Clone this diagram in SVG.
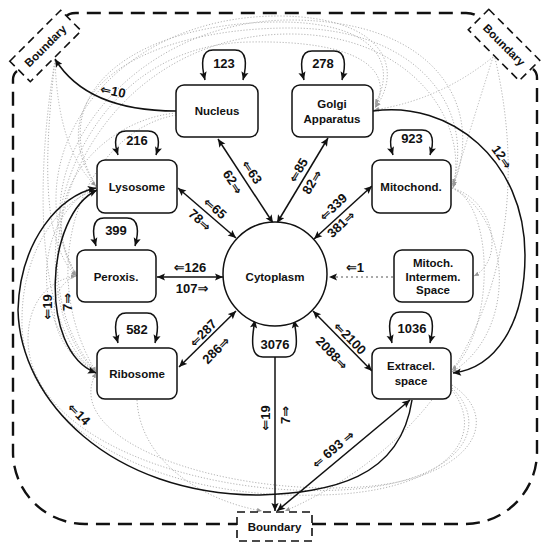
<svg xmlns="http://www.w3.org/2000/svg" width="550" height="550" viewBox="0 0 550 550">
<style>
text{font-family:"Liberation Sans","DejaVu Sans",sans-serif;font-weight:bold;text-anchor:middle;dominant-baseline:central;fill:#111}
.n{font-size:11.5px}
.e{font-size:13px}
.a{font-family:"DejaVu Sans",sans-serif;font-weight:bold}
.box{fill:#fff;stroke:#111;stroke-width:1.5}
.bnd{fill:#fff;stroke:#111;stroke-width:1.6;stroke-dasharray:8 5}
.outer{fill:none;stroke:#111;stroke-width:2.4;stroke-dasharray:14 8}
.s{fill:none;stroke:#111;stroke-width:1.5}
.d{fill:none;stroke:#b4b4b4;stroke-width:1;stroke-dasharray:1.2 1.8}
</style>
<defs>
<marker id="ah" viewBox="0 0 10 10" refX="10" refY="5" markerWidth="9" markerHeight="8" markerUnits="userSpaceOnUse" orient="auto-start-reverse"><path d="M0,0.5 L10,5 L0,9.5 L2,5 z" fill="#111"/></marker>
<marker id="gh" viewBox="0 0 10 10" refX="10" refY="5" markerWidth="5" markerHeight="5" markerUnits="userSpaceOnUse" orient="auto"><path d="M0,0.5 L10,5 L0,9.5 z" fill="#999"/></marker>
</defs>
<rect width="550" height="550" fill="#fff"/>

<g id="outer-boundary">
<path class="outer" d="M17,71 Q13,74 13,80 L13,452 A72 72 0 0 0 85,524 L237,524"/>
<path class="outer" d="M312,524 L465,524 A72 72 0 0 0 537,452 L537,78 Q537,72 533,69"/>
<path class="outer" d="M66,17 Q68,13 76,13 L466,13 Q474,13 478,17"/>
</g>

<g id="minor-connectors">
<path class="d" marker-end="url(#gh)" d="M96,186 C40,90 140,22 280,22 C370,22 400,60 375,104"/>
<path class="d" marker-end="url(#gh)" d="M77,276 C10,160 110,15 280,16 C380,17 405,65 376,107"/>
<path class="d" marker-end="url(#gh)" d="M96,186 C35,95 140,28 290,28 C420,28 475,110 453,184"/>
<path class="d" marker-end="url(#gh)" d="M77,276 C15,170 130,20 290,20 C440,20 485,110 453,186"/>
<path class="d" marker-end="url(#gh)" d="M96,372 C0,260 90,34 290,34 C410,34 470,120 453,188"/>
<path class="d" marker-end="url(#gh)" d="M96,372 C10,290 60,45 250,42 C360,40 395,70 375,108"/>
<path class="d" marker-end="url(#gh)" d="M176,113 C100,120 30,200 76,276"/>
<path class="d" marker-end="url(#gh)" d="M176,115 C90,130 30,260 96,372"/>
<path class="d" marker-end="url(#gh)" d="M55,60 Q58,150 96,186"/>
<path class="d" marker-end="url(#gh)" d="M55,60 C45,150 40,240 76,276"/>
<path class="d" marker-end="url(#gh)" d="M55,60 C35,180 35,330 96,372"/>
<path class="d" marker-end="url(#gh)" d="M493,57 Q440,100 374,110"/>
<path class="d" marker-end="url(#gh)" d="M493,57 Q470,130 453,186"/>
<path class="d" marker-end="url(#gh)" d="M452,188 C495,200 505,260 474,276"/>
<path class="d" marker-end="url(#gh)" d="M452,188 C510,215 520,330 452,372"/>
<path class="d" marker-end="url(#gh)" d="M452,188 C495,205 495,330 452,370"/>
<path class="d" marker-end="url(#gh)" d="M495,58 C540,250 470,430 285,511"/>
<path class="d" marker-end="url(#gh)" d="M452,385 C505,420 470,480 360,487 C220,496 60,440 96,373"/>
<path class="d" marker-end="url(#gh)" d="M452,388 C495,430 455,485 340,490 C200,497 30,440 28,340 C28,300 50,280 76,276"/>
<path class="d" marker-end="url(#gh)" d="M452,390 C490,440 440,493 320,495 C160,500 20,430 22,320 C22,250 60,200 96,190"/>
<path class="d" marker-end="url(#gh)" d="M137,400 C140,460 200,500 262,511"/>
<path class="d" marker-end="url(#gh)" d="M96,186 C30,220 30,330 96,372"/>
<path class="d" marker-end="url(#gh)" d="M76,276 C40,290 50,350 96,372"/>
<path class="d" style="stroke:#555;stroke-dasharray:2 3" marker-end="url(#ah)" d="M393,277 L329,277"/>
</g>

<g id="connectors">
<path class="s" marker-start="url(#ah)" marker-end="url(#ah)" d="M218,139 L273,223"/>
<path class="s" marker-start="url(#ah)" marker-end="url(#ah)" d="M328,138 L277,223"/>
<path class="s" marker-start="url(#ah)" marker-end="url(#ah)" d="M178,188 L236,238"/>
<path class="s" marker-start="url(#ah)" marker-end="url(#ah)" d="M157,277 L223,277"/>
<path class="s" marker-start="url(#ah)" marker-end="url(#ah)" d="M179,367 L236,311"/>
<path class="s" marker-start="url(#ah)" marker-end="url(#ah)" d="M372,186 L314,239"/>
<path class="s" marker-start="url(#ah)" marker-end="url(#ah)" d="M313,311 L372,371"/>
<path class="s" marker-start="url(#ah)" marker-end="url(#ah)" d="M205,80 C201,64 201,50 213,50 L235,50 C247,50 247,64 243,80"/>
<path class="s" marker-start="url(#ah)" marker-end="url(#ah)" d="M304,80 C300,65 300,51 312,51 L334,51 C346,51 346,65 342,80"/>
<path class="s" marker-start="url(#ah)" marker-end="url(#ah)" d="M118,155 C114,143 114,131 126,131 L148,131 C160,131 160,143 156,155"/>
<path class="s" marker-start="url(#ah)" marker-end="url(#ah)" d="M393,155 C389,143 389,130 401,130 L422,130 C434,130 434,143 430,155"/>
<path class="s" marker-start="url(#ah)" marker-end="url(#ah)" d="M96,246 C92,232 92,218 104,218 L127,218 C139,218 139,232 135,246"/>
<path class="s" marker-start="url(#ah)" marker-end="url(#ah)" d="M118,343 C114,328 114,313 126,313 L147,313 C159,313 159,328 155,343"/>
<path class="s" marker-start="url(#ah)" marker-end="url(#ah)" d="M392,343 C388,327 388,312 400,312 L422,312 C434,312 434,327 430,343"/>
<path class="s" marker-start="url(#ah)" marker-end="url(#ah)" d="M255,320 C251,342 251,357 263,357 L286,357 C298,357 298,342 294,320"/>
<path class="s" marker-end="url(#ah)" d="M176,111 C130,111 80,100 55,59"/>
<path class="s" marker-end="url(#ah)" d="M373,111 C450,100 525,160 525,255 C525,325 495,368 453,373"/>
<path class="s" marker-start="url(#ah)" marker-end="url(#ah)" d="M97,190 C45,215 38,350 96,373"/>
<path class="s" marker-end="url(#ah)" d="M412,400 C400,480 330,492 260,495 C110,495 20,400 18,310 C20,240 60,195 96,188"/>
<path class="s" marker-start="url(#ah)" marker-end="url(#ah)" d="M410,400 L277,511"/>
<path class="s" marker-end="url(#ah)" d="M275,357 L275,511"/>
</g>

<g id="nucleus"><rect class="box" x="176" y="85" width="82" height="52" rx="8"/><text class="n" x="217" y="111">Nucleus</text></g>
<g id="golgi"><rect class="box" x="292" y="85" width="81" height="52" rx="8"/><text class="n" x="332" y="104">Golgi</text><text class="n" x="332" y="119">Apparatus</text></g>
<g id="lysosome"><rect class="box" x="97" y="160" width="80" height="53" rx="8"/><text class="n" x="137" y="187">Lysosome</text></g>
<g id="mitochond"><rect class="box" x="372" y="160" width="79" height="53" rx="8"/><text class="n" x="411" y="187">Mitochond.</text></g>
<g id="peroxis"><rect class="box" x="77" y="250" width="79" height="52" rx="8"/><text class="n" x="116" y="277">Peroxis.</text></g>
<g id="intermem"><rect class="box" x="394" y="250" width="79" height="52" rx="8"/><text class="n" x="433" y="263">Mitoch.</text><text class="n" x="433" y="277">Intermem.</text><text class="n" x="433" y="290">Space</text></g>
<g id="ribosome"><rect class="box" x="97" y="348" width="80" height="51" rx="8"/><text class="n" x="137" y="374">Ribosome</text></g>
<g id="extracel"><rect class="box" x="372" y="348" width="79" height="51" rx="8"/><text class="n" x="411" y="366">Extracel.</text><text class="n" x="411" y="381">space</text></g>
<g id="cytoplasm"><circle class="box" cx="275" cy="274" r="52"/><text class="n" x="275" y="277">Cytoplasm</text></g>
<g id="boundary-tl" transform="translate(45.5,46) rotate(-45)"><rect class="bnd" x="-36" y="-14.5" width="72" height="29"/><text class="n" x="0" y="0">Boundary</text></g>
<g id="boundary-tr" transform="translate(504,45) rotate(45)"><rect class="bnd" x="-36" y="-14.5" width="72" height="29"/><text class="n" x="0" y="0">Boundary</text></g>
<g id="boundary-bottom"><rect class="bnd" x="237" y="512" width="75" height="29"/><text class="n" x="274.5" y="527">Boundary</text></g>

<g id="labels">
<text class="e" x="224" y="63">123</text>
<text class="e" x="323" y="63">278</text>
<text class="e" x="137" y="140">216</text>
<text class="e" x="412" y="138">923</text>
<text class="e" x="116" y="230">399</text>
<text class="e" x="137" y="329">582</text>
<text class="e" x="412" y="328">1036</text>
<text class="e" x="275" y="344">3076</text>
<text class="e" transform="translate(233,182) rotate(57)">62<tspan class="a">⇒</tspan></text>
<text class="e" transform="translate(252,172) rotate(57)"><tspan class="a">⇐</tspan>63</text>
<text class="e" transform="translate(298,170) rotate(-59)"><tspan class="a">⇐</tspan>85</text>
<text class="e" transform="translate(312,182) rotate(-59)">82<tspan class="a">⇒</tspan></text>
<text class="e" transform="translate(215,208) rotate(41)"><tspan class="a">⇐</tspan>65</text>
<text class="e" transform="translate(200,220) rotate(41)">78<tspan class="a">⇒</tspan></text>
<text class="e" x="190" y="267"><tspan class="a">⇐</tspan>126</text>
<text class="e" x="192" y="288">107<tspan class="a">⇒</tspan></text>
<text class="e" transform="translate(203,333) rotate(-45)"><tspan class="a">⇐</tspan>287</text>
<text class="e" transform="translate(216,350) rotate(-45)">286<tspan class="a">⇒</tspan></text>
<text class="e" transform="translate(333,207) rotate(-43)"><tspan class="a">⇐</tspan>339</text>
<text class="e" transform="translate(341,224) rotate(-43)">381<tspan class="a">⇒</tspan></text>
<text class="e" x="355" y="267"><tspan class="a">⇐</tspan>1</text>
<text class="e" transform="translate(350,338) rotate(46)"><tspan class="a">⇐</tspan>2100</text>
<text class="e" transform="translate(332,353) rotate(46)">2088<tspan class="a">⇒</tspan></text>
<text class="e" transform="translate(113,91) rotate(12)"><tspan class="a">⇐</tspan>10</text>
<text class="e" transform="translate(502,157) rotate(55)">12<tspan class="a">⇒</tspan></text>
<text class="e" transform="translate(47,307) rotate(-90)"><tspan class="a">⇐</tspan>19</text>
<text class="e" transform="translate(67,302) rotate(-90)">7<tspan class="a">⇒</tspan></text>
<text class="e" transform="translate(79,414) rotate(45)"><tspan class="a">⇐</tspan>14</text>
<text class="e" transform="translate(333,449) rotate(-40)"><tspan class="a">⇐</tspan> 693 <tspan class="a">⇒</tspan></text>
<text class="e" transform="translate(265,418) rotate(-90)"><tspan class="a">⇐</tspan>19</text>
<text class="e" transform="translate(285,415) rotate(-90)">7<tspan class="a">⇒</tspan></text>
</g>
</svg>
